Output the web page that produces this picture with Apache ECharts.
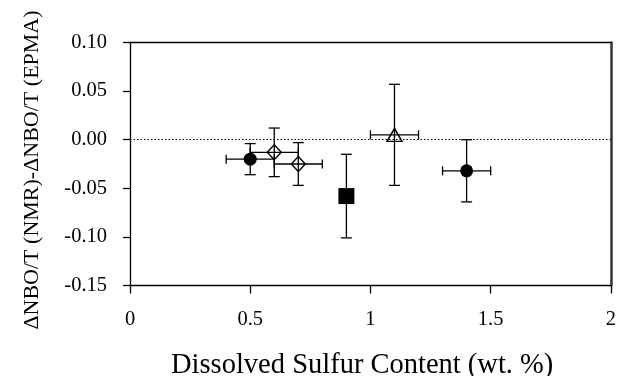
<!DOCTYPE html>
<html>
<head>
<meta charset="utf-8">
<script src="https://cdn.jsdelivr.net/npm/echarts@6/dist/echarts.min.js"></script>
<style>html,body{margin:0;padding:0;background:#fff}#c{width:619px;height:376px}</style>
</head>
<body>
<div id="c"></div>
<script>
// Data
var circleX = [0.5, 1.4];
var circleY = [-0.020, -0.032];
var circleYErr = [0.016, 0.032];
var circleXErr = [0.1, 0.1];

var diamondX = [0.6, 0.7];
var diamondY = [-0.013, -0.025];
var diamondYErr = [0.025, 0.022];
var diamondXErr = [0.1, 0.1];

var squareX = [0.9];
var squareY = [-0.058];
var squareYErr = [0.043];
var squareXErr = [0];

var triangleX = [1.1];
var triangleY = [0.005];
var triangleYErr = [0.052];
var triangleXErr = [0.1];

var xTicks = [0, 0.5, 1, 1.5, 2];
var yTicks = [-0.15, -0.10, -0.05, 0.00, 0.05, 0.10];

var FONT = '"Liberation Serif", "Times New Roman", serif';

function pts(xs, ys) { return xs.map(function (x, i) { return [x, ys[i]]; }); }
function errRows() {
  var rows = [];
  [[circleX, circleY, circleXErr, circleYErr],
   [diamondX, diamondY, diamondXErr, diamondYErr],
   [squareX, squareY, squareXErr, squareYErr],
   [triangleX, triangleY, triangleXErr, triangleYErr]].forEach(function (g) {
    g[0].forEach(function (x, i) { rows.push([x, g[1][i], g[2][i], g[3][i]]); });
  });
  return rows;
}

var chart = echarts.init(document.getElementById('c'), null, {renderer: 'canvas'});
var ls = {stroke: '#000', lineWidth: 1.3};

chart.setOption({
  animation: false,
  backgroundColor: '#fff',
  grid: {left: 130, top: 42.5, right: 5.5, bottom: 90.5, containLabel: false},
  xAxis: [{
    type: 'value', min: 0, max: 2, interval: 0.5,
    axisLine: {show: true, onZero: false, lineStyle: {color: '#000', width: 1.3}},
    axisTick: {show: true, length: 8, lineStyle: {color: '#000', width: 1.3}},
    axisLabel: {color: '#000', fontFamily: FONT, fontSize: 20.5, margin: 24,
      formatter: function (v) { return xTicks.indexOf(v) >= 0 ? String(v) : ''; }},
    splitLine: {show: false}
  }, {
    type: 'value', min: 0, max: 2, position: 'top',
    axisLine: {show: true, onZero: false, lineStyle: {color: '#000', width: 1.3}},
    axisTick: {show: false}, axisLabel: {show: false}, splitLine: {show: false}
  }],
  yAxis: [{
    type: 'value', min: -0.15, max: 0.10, interval: 0.05,
    axisLine: {show: true, onZero: false, lineStyle: {color: '#000', width: 1.3}},
    axisTick: {show: true, length: 7, lineStyle: {color: '#000', width: 1.3}},
    axisLabel: {color: '#000', fontFamily: FONT, fontSize: 20.5, margin: 23,
      formatter: function (v) {
        for (var i = 0; i < yTicks.length; i++) if (Math.abs(yTicks[i] - v) < 1e-9) return yTicks[i].toFixed(2);
        return '';
      }},
    splitLine: {show: false}
  }, {
    type: 'value', min: -0.15, max: 0.10, position: 'right',
    axisLine: {show: true, onZero: false, lineStyle: {color: '#333', width: 2.5}},
    axisTick: {show: false}, axisLabel: {show: false}, splitLine: {show: false}
  }],
  graphic: [
    {type: 'text', left: 171, top: 351,
      style: {text: 'Dissolved Sulfur Content (wt. %)', fontFamily: FONT, fontSize: 28.5, fill: '#000'}},
    {type: 'text', x: 32, y: 170, rotation: Math.PI / 2,
      style: {text: 'ΔNBO/T (NMR)-ΔNBO/T (EPMA)', fontFamily: FONT, fontSize: 22, fill: '#000',
        align: 'center', verticalAlign: 'middle'}}
  ],
  series: [
    {
      type: 'line', data: [], silent: true,
      markLine: {silent: true, symbol: 'none', label: {show: false},
        lineStyle: {color: '#000', type: [1.5, 2], width: 1}, data: [{yAxis: 0}]}
    },
    {
      type: 'custom', silent: true, z: 2,
      data: errRows(),
      renderItem: function (params, api) {
        var x = api.value(0), y = api.value(1), ex = api.value(2), ey = api.value(3);
        var c = api.coord([x, y]);
        var top = api.coord([x, y + ey]), bot = api.coord([x, y - ey]);
        var children = [];
        var cw = 5.5;
        children.push({type: 'line', shape: {x1: c[0], y1: top[1], x2: c[0], y2: bot[1]}, style: ls});
        children.push({type: 'line', shape: {x1: c[0] - cw, y1: top[1], x2: c[0] + cw, y2: top[1]}, style: ls});
        children.push({type: 'line', shape: {x1: c[0] - cw, y1: bot[1], x2: c[0] + cw, y2: bot[1]}, style: ls});
        if (ex > 0) {
          var l = api.coord([x - ex, y]), r = api.coord([x + ex, y]);
          var ch = 4.5;
          children.push({type: 'line', shape: {x1: l[0], y1: c[1], x2: r[0], y2: c[1]}, style: ls});
          children.push({type: 'line', shape: {x1: l[0], y1: c[1] - ch, x2: l[0], y2: c[1] + ch}, style: ls});
          children.push({type: 'line', shape: {x1: r[0], y1: c[1] - ch, x2: r[0], y2: c[1] + ch}, style: ls});
        }
        return {type: 'group', children: children};
      }
    },
    {type: 'scatter', z: 3, symbol: 'circle', symbolSize: 13, data: pts(circleX, circleY),
      itemStyle: {color: '#000', opacity: 1}},
    {type: 'scatter', z: 3, symbol: 'diamond', symbolSize: [14, 15], data: pts(diamondX, diamondY),
      itemStyle: {color: 'rgba(0,0,0,0)', borderColor: '#000', borderWidth: 1.4, opacity: 1}},
    {type: 'scatter', z: 3, symbol: 'rect', symbolSize: 16, data: pts(squareX, squareY),
      itemStyle: {color: '#000', opacity: 1}},
    {type: 'scatter', z: 3, symbol: 'triangle', symbolSize: [15, 13], data: pts(triangleX, triangleY),
      itemStyle: {color: 'rgba(0,0,0,0)', borderColor: '#000', borderWidth: 1.4, opacity: 1}}
  ]
});
</script>
</body>
</html>
